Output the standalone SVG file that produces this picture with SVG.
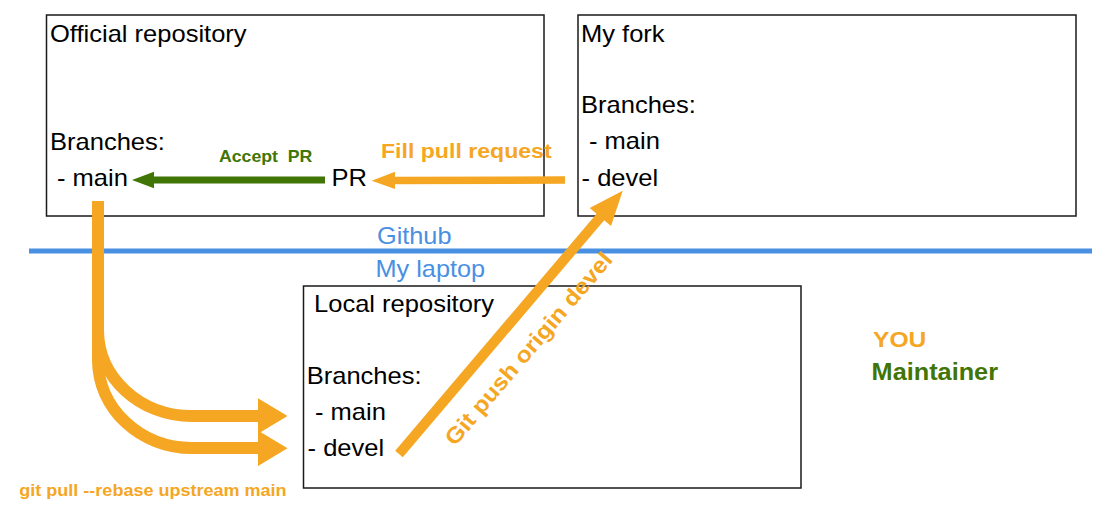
<svg xmlns="http://www.w3.org/2000/svg" width="1118" height="527" viewBox="0 0 1118 527">
<style>
.box{fill:#fff;stroke:#1a1a1a;stroke-width:1.5}
.t{font-family:"Liberation Sans",Arial,sans-serif;font-size:23px;fill:#000}
.blue{fill:#4A90E2}
.b{font-family:"Liberation Sans",Arial,sans-serif;font-weight:bold}
.or{fill:#F5A623}
.gr{fill:#417505}
.ol{stroke:#F5A623;fill:none}
.gl{stroke:#417505;fill:none}
</style>
<rect width="1118" height="527" fill="#fff"/>
<g id="official">
<rect class="box" x="46.5" y="15" width="497.5" height="201"/>
<text class="t" transform="translate(50 42) scale(1.11 1)">Official repository</text>
<text class="t" transform="translate(50 150) scale(1.11 1)">Branches:</text>
<text class="t" transform="translate(57 186) scale(1.11 1)">- main</text>
<text class="t" transform="translate(331.5 185.5) scale(1.11 1)">PR</text>
</g>
<g id="fork">
<rect class="box" x="578" y="15" width="498" height="201"/>
<text class="t" transform="translate(581 42) scale(1.11 1)">My fork</text>
<text class="t" transform="translate(581 113) scale(1.11 1)">Branches:</text>
<text class="t" transform="translate(589 149) scale(1.11 1)">- main</text>
<text class="t" transform="translate(581.6 186) scale(1.11 1)">- devel</text>
</g>
<g id="local">
<rect class="box" x="303.5" y="286" width="497.5" height="202"/>
<text class="t" transform="translate(314 312) scale(1.11 1)">Local repository</text>
<text class="t" transform="translate(306.7 384) scale(1.11 1)">Branches:</text>
<text class="t" transform="translate(315 420) scale(1.11 1)">- main</text>
<text class="t" transform="translate(307.6 456) scale(1.11 1)">- devel</text>
</g>
<g id="boundary">
<line x1="29" y1="251" x2="1092" y2="251" stroke="#4A90E2" stroke-width="5"/>
<text class="t blue" transform="translate(377 244) scale(1.1 1)">Github</text>
<text class="t blue" transform="translate(375.5 277) scale(1.1 1)">My laptop</text>
</g>
<g id="legend">
<text class="b or" font-size="22.4" transform="translate(873 346.7) scale(1.1 1)">YOU</text>
<text class="b gr" font-size="23" transform="translate(871.6 380) scale(1.1 1)">Maintainer</text>
</g>
<g id="connectors">
<line class="gl" x1="325" y1="180" x2="152" y2="180" stroke-width="7"/>
<polygon class="gr" points="154,171.7 132,180 154,188.3"/>
<text class="b gr" font-size="16.1" xml:space="preserve" transform="translate(219 161.7) scale(1.1 1)">Accept  PR</text>
<line class="ol" x1="565" y1="180" x2="392" y2="180.5" stroke-width="7.5"/>
<polygon class="or" points="395,171.7 371.7,180.7 395,189"/>
<text class="b or" font-size="21" transform="translate(381 158.3) scale(1.1 1)">Fill pull request</text>
<path class="ol" d="M98,201 V330 C98,377.5 140,416 192,416 H260" stroke-width="12"/>
<path class="ol" d="M98,300 V360 C98,408.6 140,448 192,448 H260" stroke-width="12"/>
<polygon class="or" points="258,398.3 287.5,416 258,433.7"/>
<polygon class="or" points="258,430.5 287.5,448.3 258,466"/>
<text class="b or" font-size="16.4" transform="translate(19.3 496) scale(1.1 1)">git pull --rebase upstream main</text>
<g transform="translate(399 454) rotate(-49.65)">
<line class="ol" x1="0" y1="0" x2="314" y2="0" stroke-width="10"/>
<polygon class="or" points="311,-14 345.5,0 311,14"/>
</g>
<text class="b or" font-size="22.4" transform="translate(455 447) rotate(-49.65) scale(1.1 1)">Git push origin devel</text>
</g>
</svg>
